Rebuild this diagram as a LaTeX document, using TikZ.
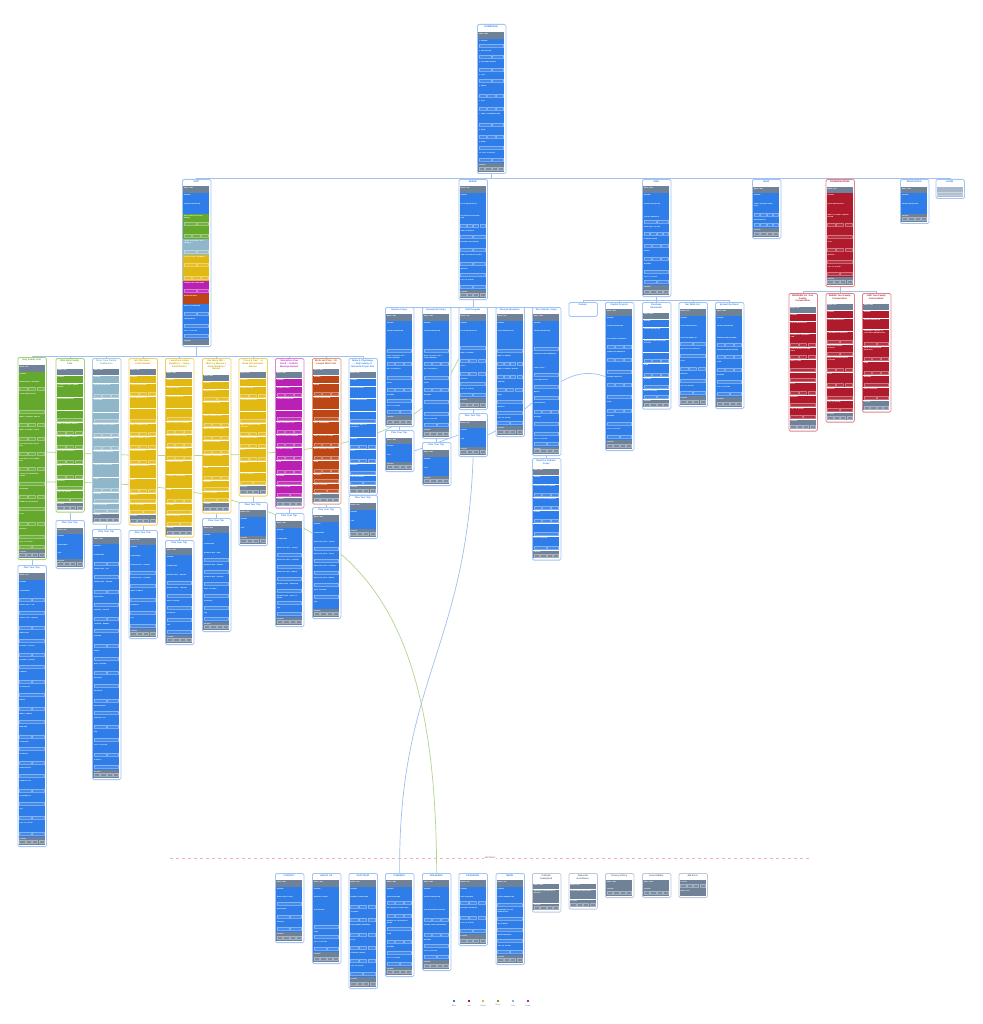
\documentclass[tikz,border=0pt]{standalone}
\usepackage{fontspec}
\setmainfont{Liberation Sans}
\usetikzlibrary{backgrounds}
\definecolor{cblue}{RGB}{47,125,232}
\definecolor{cgrey}{RGB}{112,130,152}
\definecolor{cgreen}{RGB}{100,168,45}
\definecolor{cteal}{RGB}{143,182,201}
\definecolor{cyellow}{RGB}{226,184,18}
\definecolor{cpurple}{RGB}{186,32,180}
\definecolor{corange}{RGB}{188,70,22}
\definecolor{cred}{RGB}{176,26,45}
\definecolor{clight}{RGB}{170,184,204}
\definecolor{fblue}{RGB}{160,196,246}
\definecolor{fgreen}{RGB}{165,208,125}
\definecolor{fteal}{RGB}{175,204,218}
\definecolor{fyellow}{RGB}{238,208,100}
\definecolor{fpurple}{RGB}{222,130,218}
\definecolor{forange}{RGB}{226,155,125}
\definecolor{fred}{RGB}{226,132,142}
\definecolor{fgrey}{RGB}{188,200,218}
\definecolor{tblue}{RGB}{47,125,232}
\definecolor{tgreen}{RGB}{90,160,40}
\definecolor{tteal}{RGB}{110,160,185}
\definecolor{tyellow}{RGB}{200,160,0}
\definecolor{tpurple}{RGB}{186,32,180}
\definecolor{torange}{RGB}{188,70,22}
\definecolor{tred}{RGB}{176,26,45}
\definecolor{tgrey}{RGB}{90,105,125}
\definecolor{linkblue}{RGB}{160,192,238}
\definecolor{lgreen}{RGB}{178,214,140}
\definecolor{divpink}{RGB}{242,178,188}
\newcommand\navsl{/}
\tikzset{
  cardframe/.style={draw=f#1, fill=white, line width=0.8pt, rounded corners=1.4pt, inner sep=0pt, minimum width=28.5pt},
  cardtitle/.style={text=t#1, font=\fontsize{2.3}{2.7}\selectfont\bfseries, text width=26pt, align=center, inner sep=0pt},
  seclabel/.style={text=white, font=\fontsize{1.5}{1.8}\selectfont\bfseries, text width=22pt, align=left, inner sep=0pt},
  secbox/.style={draw=white, draw opacity=0.35, fill=white, fill opacity=0.1, line width=0.2pt},
  treelink/.style={draw=linkblue, line width=0.75pt},
  xblue/.style={draw=linkblue, line width=0.7pt},
  xgreen/.style={draw=lgreen, line width=0.7pt},
  legendtext/.style={text=tgrey, font=\fontsize{1.8}{2}\selectfont, inner sep=0pt},
}
\newcommand\pagecard[7]{%
  \xdef\cardh{#5}%
  \foreach \col/\h/\lbl/\nb in {#7}{\pgfmathsetmacro\tmp{\cardh+\h}\xdef\cardh{\tmp}}%
  \node[cardframe=#4, minimum height=\cardh+1.2, anchor=north west] (#1) at (#2,#3) {};
  \node[cardtitle=#4, anchor=north] at (#2+14.25,#3+1.8) {#6};
  \xdef\cury{#5}%
  \foreach \col/\h/\lbl/\nb in {#7}{%
    \fill[\col] (#2+1.3,#3+\cury) rectangle (#2+27.2,#3+\cury+\h-0.4);
    \node[seclabel, anchor=north west] at (#2+2,#3+\cury+1) {\lbl};
    \ifnum\nb>0
      \pgfmathsetmacro\bw{(24.5-(\nb-1)*1.2)/\nb}
      \pgfmathsetmacro\by{#3+\cury+\h-4.6}
      \foreach \i in {1,...,\nb}{%
        \pgfmathsetmacro\bx{#2+2+(\i-1)*(\bw+1.2)}
        \draw[secbox] (\bx,\by) rectangle ++(\bw,3);}
    \fi
    \pgfmathsetmacro\tmp{\cury+\h}\xdef\cury{\tmp}%
  }%
}
\begin{document}
\begin{tikzpicture}[x=1pt,y=-1pt]
\useasboundingbox (0,0) rectangle (982,1024);

\pagecard{home}{477}{24}{blue}{8}{HOMEPAGE}{cgrey/7/MENU \navsl{} NAV/0, cblue/10/1. HEADER/1, cblue/11/2. WHO WE ARE/2, cblue/13/3. UPCOMING EVENTS/2, cblue/11/4. VISIT/2, cblue/15/5. SERVE/3, cblue/13/6. GIVE/3, cblue/16/7. FAMILY CONVERSATIONS/2, cblue/12/8. SHOP/3, cblue/11/9. NEWS/1, cblue/12/10. CALL TO ACTION/2, cgrey/9/FOOTER/4}

\pagecard{visit}{182}{179}{blue}{7}{VISIT}{cgrey/7/MENU \navsl{} NAV/0, cblue/9/HEADER/0, cblue/12/VALUE PROPOSITION/0, cgreen/13/HOLY FAMILY FEST PROGRAMS/2, cgreen/12//3, cteal/16/TETON TEEN FAMILY CONFERENCE/2, cyellow/13/YOUTH \& ADULT RETREATS/2, cyellow/13//3, cpurple/13/STRENGTHEN YOUR BOND/2, corange/10/WORK AND PRAY/0, cblue/13/MAKE A PILGRIMAGE/2, cblue/12/TESTIMONIALS/1, cblue/10/CALL TO ACTION/1, cgrey/6/FOOTER/0}
\pagecard{serve}{458.5}{179}{blue}{7}{SERVE}{cgrey/7/MENU \navsl{} NAV/0, cblue/9/HEADER/0, cblue/12/VALUE PROPOSITION/0, cblue/15/VOLUNTEER OPPORTUNITIES/4, cblue/11/WHAT IS SERVICE/2, cblue/13/BECOME A VOLUNTEER/2, cblue/14/JOIN THE CATHOLIC CORPS/2, cblue/11/WITNESS/1, cblue/12/CALL TO ACTION/2, cgrey/8/FOOTER/4}
\pagecard{give}{642}{179}{blue}{7}{GIVE}{cgrey/7/MENU \navsl{} NAV/0, cblue/9/HEADER/0, cblue/13/VALUE PROPOSITION/0, cblue/10/CAPITAL PROJECTS/2, cblue/12/MORE WAYS TO GIVE/4, cblue/12/PLANNED GIVING/3, cblue/13/IMPACT/3, cblue/13/WITNESS/1, cblue/10/CALL TO ACTION/2, cgrey/10/FOOTER/4}
\pagecard{shop}{752}{179}{blue}{8}{SHOP}{cgrey/6/MENU \navsl{} NAV/0, cblue/9/HEADER/0, cblue/16/FAMILY FAVORITE PRODUCTS/4, cblue/10/NEW ARRIVALS/4, cgrey/9/FOOTER/4}
\pagecard{conv}{825.5}{179}{red}{8}{CONVERSATIONS}{cgrey/6/MENU \navsl{} NAV/0, cred/9/HEADER/0, cred/11/VALUE PROPOSITION/0, cred/15/WHAT IS A FAMILY CONVERSATION/3, cred/12//1, cred/13/PLAN/3, cred/12/WITNESS/1, cred/12/CALL TO ACTION/2, cgrey/8/FOOTER/4}
\pagecard{resources}{900}{179}{blue}{8}{RESOURCES}{cgrey/6/MENU \navsl{} NAV/0, cblue/9/HEADER/0, cblue/12/VALUE PROPOSITION/0, cgrey/8/FOOTER/4}
\pagecard{login}{935.5}{179}{blue}{8}{LOGIN}{clight/10//1}

\pagecard{hff}{17.5}{357}{green}{8}{Holy Family Fest}{cgrey/7/MENU \navsl{} NAV/0, cgreen/8/HEADER/0, cgreen/12/WORKSHOPS \& SESSIONS/3, cgreen/13/VALUE PROPOSITION/0, cgreen/10//1, cgreen/13/WHAT TO EXPECT: ADULTS/3, cgreen/14/WHAT TO EXPECT: YOUTH/3, cgreen/15/FEATURED ADULT SPEAKERS/3, cgreen/15/FEATURED YOUTH SPEAKERS/3, cgreen/15/CALLED TO ENCOUNTER CHRIST/1, cgreen/13/SPONSORS/3, cgreen/12/FINANCIAL ASSISTANCE/1, cgreen/15/PLAN/3, cgreen/13/WITNESS/1, cgreen/10/CALL TO ACTION/2, cgrey/8/FOOTER/4}
\pagecard{hfftrip}{17.5}{565}{blue}{8}{Plan Your Trip}{cgrey/7/MENU \navsl{} NAV/0, cblue/9/HEADER/0, cblue/14/CATEGORIES/2, cblue/13/TRAVEL INFO – AIR/1, cblue/15/TRAVEL INFO – DRIVING/2, cblue/13/DIRECTIONS/1, cblue/14/LODGING – ON SITE/2, cblue/12/LODGING – NEARBY/1, cblue/15/CAMPING/2, cblue/13/RV HOOKUPS/1, cblue/14/DINING/2, cblue/13/WHAT TO BRING/1, cblue/15/WEATHER/2, cblue/12/CHILDCARE/1, cblue/14/SCHEDULE/2, cblue/13/REGISTRATION/1, cblue/15/FINANCIAL AID/2, cblue/13/ACCESSIBILITY/1, cblue/14/FAQ/2, cblue/16/CALL TO ACTION/2, cgrey/8/FOOTER/4}
\pagecard{jpff}{55.5}{358}{green}{10.5}{Mini Holy Family\\Fest}{cgrey/7/MENU \navsl{} NAV/0, cgreen/8/HEADER/0, cgreen/14/LODGING \& SUPPLY PREPARATION/0, cgreen/13/VALUE PROPOSITION/0, cgreen/12//1, cgreen/13/WHAT TO EXPECT: ADULTS/3, cgreen/14/WHAT TO EXPECT: YOUTH/3, cgreen/15/FEATURED SPEAKERS/3, cgreen/15/PLAN/3, cgreen/11/WITNESS/1, cgreen/12/CALL TO ACTION/2, cgrey/8/FOOTER/4}
\pagecard{jpfftrip}{55.5}{520}{blue}{8}{Plan Your Trip}{cgrey/6/MENU \navsl{} NAV/0, cblue/9/HEADER/0, cblue/8/CATEGORIES/0, cblue/8/TIPS/0, cgrey/8/FOOTER/4}
\pagecard{ttfc}{92}{358}{teal}{10.5}{Teton Teen Family\\Conference}{cgrey/7/MENU \navsl{} NAV/0, cteal/8/HEADER/0, cteal/15/VALUE PROPOSITION/3, cteal/14/FEATURED/0, cteal/11//1, cteal/14/WHAT TO EXPECT: PARENTS/3, cteal/13/WHAT TO EXPECT: TEENS/3, cteal/13/CONFERENCE SPEAKERS/0, cteal/14/FINANCIAL ASSISTANCE/0, cteal/15/PLAN/3, cteal/11/WITNESS/1, cteal/10/CALL TO ACTION/2, cgrey/9/FOOTER/4}
\pagecard{ttfctrip}{92}{529}{blue}{8}{Plan Your Trip}{cgrey/7/MENU \navsl{} NAV/0, cblue/9/HEADER/0, cblue/14/CATEGORIES/2, cblue/13/TRAVEL INFO – AIR/1, cblue/15/TRAVEL INFO – DRIVING/2, cblue/13/DIRECTIONS/1, cblue/14/LODGING – ON SITE/2, cblue/12/LODGING – NEARBY/1, cblue/15/CAMPING/2, cblue/13/DINING/1, cblue/14/WHAT TO BRING/2, cblue/13/WEATHER/1, cblue/15/SCHEDULE/2, cblue/12/REGISTRATION/1, cblue/14/FINANCIAL AID/2, cblue/13/FAQ/1, cblue/15/CALL TO ACTION/2, cblue/12/CONTACT/1, cgrey/8/FOOTER/4}
\pagecard{itd}{128.5}{358}{yellow}{10.5}{Into the Deep –\\Youth Retreat}{cgrey/7/MENU \navsl{} NAV/0, cyellow/8/HEADER/0, cyellow/13/RETREAT OVERVIEW/3, cyellow/12/VALUE PROPOSITION/0, cyellow/15//1, cyellow/13/WHAT TO EXPECT: DAY/3, cyellow/13/WHAT TO EXPECT: NIGHT/3, cyellow/15/RETREAT SPEAKERS/3, cyellow/14/FINANCIAL ASSISTANCE/0, cyellow/15/PLAN/3, cyellow/10/WITNESS/1, cyellow/11/CALL TO ACTION/2, cgrey/9/FOOTER/4}
\pagecard{itdtrip}{128.5}{530}{blue}{8}{Plan Your Trip}{cgrey/7/MENU \navsl{} NAV/0, cblue/9/HEADER/0, cblue/9/CATEGORIES/0, cblue/13/RETREAT INFO – ARRIVAL/1, cblue/13/RETREAT INFO – LODGING/1, cblue/14/WHAT TO BRING/1, cblue/13/SCHEDULE/1, cblue/13/FAQ/1, cgrey/8/FOOTER/4}
\pagecard{lla}{165}{358}{yellow}{13.5}{Lakeshore Lodge\\(Hopkins) – Young\\Adult Retreat}{cgrey/7/MENU \navsl{} NAV/0, cyellow/8/HEADER/0, cyellow/9/RETREAT DATES/0, cyellow/13/VALUE PROPOSITION/0, cyellow/13//1, cyellow/13/WHAT TO EXPECT: WEEKEND/3, cyellow/13/WHAT TO EXPECT: LODGE/3, cyellow/13/WHAT TO EXPECT: EVENTS/3, cyellow/14/RETREAT SPEAKERS/0, cyellow/14/FINANCIAL ASSISTANCE/0, cyellow/15/PLAN/3, cyellow/11/WITNESS/1, cyellow/12/CALL TO ACTION/2, cgrey/9/FOOTER/4}
\pagecard{llatrip}{165}{540}{blue}{8}{Plan Your Trip}{cgrey/7/MENU \navsl{} NAV/0, cblue/9/HEADER/0, cblue/9/CATEGORIES/0, cblue/13/RETREAT INFO – ARRIVAL/1, cblue/13/RETREAT INFO – LODGING/1, cblue/12/WHAT TO BRING/1, cblue/12/SCHEDULE/1, cblue/12/FAQ/1, cgrey/8/FOOTER/4}
\pagecard{amm}{202}{358}{yellow}{16.5}{Ave Maria Mtn –\\Men's \& Women's\\Silent Weekend\\Retreat}{cgrey/7/MENU \navsl{} NAV/0, cyellow/8/HEADER/0, cyellow/12/RETREAT DATES/2, cyellow/13/VALUE PROPOSITION/0, cyellow/13/WHAT TO EXPECT: MEN/3, cyellow/13/WHAT TO EXPECT: WOMEN/3, cyellow/14/RETREAT SPEAKERS/3, cyellow/12/FINANCIAL ASSISTANCE/0, cyellow/14/PLAN/3, cyellow/11/WITNESS/1, cyellow/11/CALL TO ACTION/2, cgrey/9/FOOTER/4}
\pagecard{ammtrip}{202}{518}{blue}{8}{Plan Your Trip}{cgrey/7/MENU \navsl{} NAV/0, cblue/9/HEADER/0, cblue/9/CATEGORIES/0, cblue/12/RETREAT INFO – MEN/1, cblue/12/RETREAT INFO – WOMEN/1, cblue/12/RETREAT INFO – SILENCE/1, cblue/12/WHAT TO BRING/1, cblue/12/SCHEDULE/1, cblue/11/FAQ/1, cgrey/8/FOOTER/4}
\pagecard{cas}{238.5}{358}{yellow}{13.5}{“Come \& See” – A\\Week Discernment\\Retreat}{cgrey/7/MENU \navsl{} NAV/0, cyellow/8/HEADER/0, cyellow/12/RETREAT DATES/3, cyellow/13/VALUE PROPOSITION/0, cyellow/12//1, cyellow/13/WHAT TO EXPECT DURING THE WEEK/3, cyellow/12/THE CATHOLIC CORPS/3, cyellow/13/PLAN/3, cyellow/11/WITNESS/0, cyellow/13/CALL TO ACTION/2, cgrey/9/FOOTER/4}
\pagecard{castrip}{238.5}{502}{blue}{8}{Plan Your Trip}{cgrey/7/MENU \navsl{} NAV/0, cblue/9/HEADER/0, cblue/10/TIPS/0, cgrey/8/FOOTER/4}
\pagecard{syb}{275}{358}{purple}{13.5}{Strengthen Your\\Bond – Catholic\\Marriage Retreat}{cgrey/7/MENU \navsl{} NAV/0, cpurple/8/HEADER/0, cpurple/11/RETREAT DATES/3, cpurple/13/VALUE PROPOSITION/0, cpurple/11//1, cpurple/13/WHAT TO EXPECT: DAY/3, cpurple/13/WHAT TO EXPECT: EVENING/3, cpurple/13/RETREAT SPEAKERS/3, cpurple/14/PLAN/3, cpurple/11/WITNESS/1, cpurple/12/CALL TO ACTION/2, cgrey/9/FOOTER/4}
\pagecard{sybtrip}{275}{513}{blue}{8}{Plan Your Trip}{cgrey/7/MENU \navsl{} NAV/0, cblue/9/HEADER/0, cblue/9/CATEGORIES/0, cblue/12/PRACTICAL INFO – TRAVEL/1, cblue/12/PRACTICAL INFO – LODGING/1, cblue/12/PRACTICAL INFO – MEALS/1, cblue/12/RETREAT INFO – SCHEDULE/1, cblue/12/RETREAT INFO – WHAT TO BRING/1, cblue/11/FAQ/1, cgrey/8/FOOTER/4}
\pagecard{wap}{312}{358}{orange}{10.5}{Work and Pray – St.\\Joseph Work Fest}{cgrey/7/MENU \navsl{} NAV/0, corange/8/HEADER/0, corange/13/DATES/3, corange/13/VALUE PROPOSITION/0, corange/12//1, corange/13/SKILL ASSESSMENT/0, corange/13/WHAT TO EXPECT: WORK/3, corange/13/WHAT TO EXPECT: PRAYER/3, corange/13/PLAN/3, corange/10/WITNESS/1, corange/10/CALL TO ACTION/2, cgrey/9/FOOTER/4}
\pagecard{waptrip}{312}{507}{blue}{8}{Plan Your Trip}{cgrey/7/MENU \navsl{} NAV/0, cblue/9/HEADER/0, cblue/9/CATEGORIES/0, cblue/12/PRACTICAL INFO – TRAVEL/1, cblue/12/PRACTICAL INFO – TOOLS/1, cblue/12/PRACTICAL INFO – LODGING/1, cblue/12/PRACTICAL INFO – MEALS/1, cblue/12/WHAT TO BRING/1, cblue/9/FAQ/0, cgrey/8/FOOTER/4}
\pagecard{map}{348.5}{358}{blue}{13.5}{Make A Pilgrimage\\– Holy Family of\\Nazareth Prayer Site}{cgrey/7/MENU \navsl{} NAV/0, cblue/8/HEADER/0, cblue/12/PLAN YOUR VISIT/0, cblue/13/VALUE PROPOSITION/0, cblue/12//1, cblue/14/THE HOLY FAMILY OF NAZARETH/0, cblue/12/HISTORY/3, cblue/14/PLAN/3, cblue/12/WITNESS/1, cblue/10/CALL TO ACTION/2, cgrey/8/FOOTER/4}
\pagecard{maptrip}{348.5}{495}{blue}{8}{Plan Your Trip}{cgrey/7/MENU \navsl{} NAV/0, cblue/9/HEADER/0, cblue/10/TIPS/0, cgrey/8/FOOTER/4}

\pagecard{sc}{385}{307}{blue}{7}{Service Corps}{cgrey/7/MENU \navsl{} NAV/0, cblue/8/HEADER/0, cblue/13/VALUE PROPOSITION/0, cblue/12//1, cblue/13/WHAT TO EXPECT AS A CORPS MEMBER/3, cblue/14/GET THE DETAILS/1, cblue/12/APPLY/3, cblue/11/WITNESS/1, cblue/11/CALL TO ACTION/2, cgrey/10/FOOTER/4}
\pagecard{sctrip}{385}{430}{blue}{8}{Plan Your Trip}{cgrey/6/MENU \navsl{} NAV/0, cblue/9/HEADER/0, cblue/9/TIPS/0, cgrey/8/FOOTER/4}
\pagecard{hc}{422}{307}{blue}{7}{Household Corps}{cgrey/7/MENU \navsl{} NAV/0, cblue/8/HEADER/0, cblue/13/VALUE PROPOSITION/0, cblue/12//1, cblue/13/WHAT TO EXPECT AS A CORPS MEMBER/3, cblue/14/GET THE DETAILS/1, cblue/12/APPLY/3, cblue/12/WITNESS/1, cblue/12//1, cblue/11/CALL TO ACTION/2, cgrey/9/FOOTER/4}
\pagecard{hctrip}{422}{442}{blue}{8}{Plan Your Trip}{cgrey/7/MENU \navsl{} NAV/0, cblue/9/HEADER/0, cblue/10/TIPS/0, cgrey/8/FOOTER/4}
\pagecard{gp}{458.5}{307}{blue}{7}{Golf Program}{cgrey/7/MENU \navsl{} NAV/0, cblue/8/HEADER/0, cblue/13/VALUE PROPOSITION/0, cblue/9//1, cblue/13/WHAT TO EXPECT/3, cblue/13/APPLY/3, cblue/10/WITNESS/1, cblue/11/CALL TO ACTION/2, cgrey/10/FOOTER/4}
\pagecard{gptrip}{458.5}{413}{blue}{8}{Plan Your Trip}{cgrey/7/MENU \navsl{} NAV/0, cblue/9/HEADER/0, cblue/10/TIPS/0, cgrey/8/FOOTER/4}
\pagecard{dm}{495.5}{307}{blue}{7}{Disciple Mountain}{cgrey/7/MENU \navsl{} NAV/0, cblue/8/HEADER/0, cblue/13/VALUE PROPOSITION/0, cblue/12//1, cblue/13/WHAT TO EXPECT/4, cblue/13/WHAT TO EXPECT: WINTER/4, cblue/13/TIMELINE/3, cblue/12/FAQS/1, cblue/11/WITNESS/1, cblue/10/CALL TO ACTION/2, cgrey/9/FOOTER/4}
\pagecard{tcc}{532}{307}{blue}{7}{The Catholic Corps}{cgrey/7/MENU \navsl{} NAV/0, cblue/8/HEADER/0, cblue/13/VALUE PROPOSITION/0, cblue/10//1, cblue/14/CATHOLIC CORPS MEMBERS/0, cblue/12/APPLY TODAY/1, cblue/12/OUR SPIRITUALITY/1, cblue/11/MEALS/1, cblue/14/TESTIMONIALS/3, cblue/12/WITNESS/1, cblue/10//1, cblue/10/CALL TO ACTION/2, cgrey/7/FOOTER/4}
\pagecard{meetcc}{532}{458}{blue}{10.5}{Meet the Catholic\\Corps}{cgrey/7/MENU \navsl{} NAV/0, cblue/9/HEADER/0, cblue/13/CATHOLIC CORPS LEADERS/3, cblue/13/CATHOLIC CORPS MEMBERS/3, cblue/13/ALUMNI/3, cblue/13//1, cblue/14/CALL TO ACTION/2, cgrey/8/FOOTER/4}

\node[cardframe=blue, minimum height=14, anchor=north west] (donate) at (568.5,302) {};
\node[cardtitle=blue, anchor=north] at (582.75,304) {Donate};
\pagecard{cp}{605}{302}{blue}{7}{Capital Projects}{cgrey/7/MENU \navsl{} NAV/0, cblue/8/HEADER/0, cblue/13/VALUE PROPOSITION/0, cblue/13/OUR CAPITAL PROJECTS/3, cblue/13/COMPLETED PROJECTS/3, cblue/12//1, cblue/13/FUTURE PROJECTS/3, cblue/12//1, cblue/14/PLAN/3, cblue/13/WITNESS/1, cblue/13/CALL TO ACTION/2, cgrey/9/FOOTER/4}
\pagecard{pm}{642}{302}{blue}{10.5}{Purchase\\Memorials}{cgrey/7/MENU \navsl{} NAV/0, cblue/8/HEADER/0, cblue/12/VALUE PROPOSITION/0, cblue/13/MEMORIAL BRICK \& PLAQUE OPTIONS/0, cblue/11//3, cblue/14/PLAN/3, cblue/12/WITNESS/1, cblue/10/CALL TO ACTION/2, cgrey/8/FOOTER/4}
\pagecard{owl}{678.5}{302}{blue}{7}{Our Wish List}{cgrey/7/MENU \navsl{} NAV/0, cblue/8/HEADER/0, cblue/12/VALUE PROPOSITION/0, cblue/11/SHOP OUR WISH LIST/2, cblue/12/WISH LIST BY CATEGORY/1, cblue/13/PLAN/3, cblue/12/WITNESS/1, cblue/12/CALL TO ACTION/2, cgrey/9/FOOTER/4}
\pagecard{stw}{715}{302}{blue}{7}{Spread the Word}{cgrey/7/MENU \navsl{} NAV/0, cblue/8/HEADER/0, cblue/12/VALUE PROPOSITION/0, cblue/12/AMBASSADOR PROGRAM/3, cblue/12/AMBASSADOR RESOURCES/3, cblue/13/PLAN/3, cblue/12/WITNESS/1, cblue/12/CALL TO ACTION/2, cgrey/10/FOOTER/4}

\pagecard{prep}{788.5}{293}{red}{13.5}{PREPARE For Your\\Family\\Conversation}{cgrey/7/MENU \navsl{} NAV/0, cred/8/HEADER/0, cred/12/VALUE PROPOSITION/0, cred/14/SCHEDULE A CONVERSATION/3, cred/12/TOOLS TO HELP YOU PREPARE/3, cred/13/WHAT TO ASK/1, cred/10//1, cred/13/PLAN/3, cred/12/WITNESS/1, cred/12/CALL TO ACTION/2, cgrey/10/FOOTER/4}
\pagecard{share}{825.5}{293}{red}{10.5}{SHARE Your Family\\Conversation}{cgrey/7/MENU \navsl{} NAV/0, cred/8/HEADER/0, cred/13/VALUE PROPOSITION/0, cred/13/CONVERSATION PROMPTS/2, cred/12/DAILY DEVOTIONAL PRAYERS/2, cred/16/EVENT CONVERSATION RESOURCES/3, cred/15/PLAN/3, cred/13/WITNESS/1, cred/12/CALL TO ACTION/2, cgrey/8/FOOTER/4}
\pagecard{live}{862}{293}{red}{10.5}{LIVE Your Family\\Conversation}{cgrey/7/MENU \navsl{} NAV/0, cred/8/HEADER/0, cred/11/VALUE PROPOSITION/0, cred/17/COMMUNITY GROUPS TO LIVE YOUR CONVERSATION/2, cred/15/MORE CONVERSATION PRODUCTS/3, cred/14/PLAN/3, cred/12/WITNESS/1, cred/13/CALL TO ACTION/2, cgrey/10/FOOTER/4}

\pagecard{contact}{275}{873}{blue}{7}{CONTACT}{cgrey/7/MENU \navsl{} NAV/0, cblue/8/HEADER/0, cblue/12/MAIN CONTACT INFO/1, cblue/13/DIRECTIONS/2, cblue/12/SUPPORT/2, cgrey/9/FOOTER/4}
\pagecard{about}{312}{873}{blue}{7}{ABOUT US}{cgrey/7/MENU \navsl{} NAV/0, cblue/8/HEADER/0, cblue/13/MISSION \& VISION/0, cblue/22/OUR HISTORY/1, cblue/10/FAQS/1, cblue/12/CALL TO ACTION/2, cgrey/10/FOOTER/4}
\pagecard{team}{348.5}{873}{blue}{7}{OUR TEAM}{cgrey/7/MENU \navsl{} NAV/0, cblue/8/HEADER/0, cblue/15/BOARD OF DIRECTORS/3, cblue/13/OFFICERS/3, cblue/15/DEPARTMENT MANAGERS/3, cblue/13/STAFF/3, cblue/13/ADVISORY COUNCIL/3, cblue/13/CALL TO ACTION/2, cgrey/10/FOOTER/4}
\pagecard{careers}{385}{873}{blue}{7}{CAREERS}{cgrey/7/MENU \navsl{} NAV/0, cblue/8/HEADER/0, cblue/11/OPEN POSITIONS/3, cblue/13/WHY WORK AT FAMILYLAND/3, cblue/13/BENEFITS \& JOB OPPORTUNITIES/1, cblue/13/PLAN/3, cblue/11/WITNESS/1, cblue/11/CALL TO ACTION/2, cgrey/8/FOOTER/4}
\pagecard{speakers}{422}{873}{blue}{7}{SPEAKERS}{cgrey/7/MENU \navsl{} NAV/0, cblue/8/HEADER/0, cblue/13/VALUE PROPOSITION/0, cblue/15/OUR FEATURED SPEAKERS/3, cblue/15/FUTURE YOUR CONFERENCE/3, cblue/11/WITNESS/1, cblue/11/CALL TO ACTION/2, cgrey/9/FOOTER/4}
\pagecard{sponsors}{458.5}{873}{blue}{7}{SPONSORS}{cgrey/7/MENU \navsl{} NAV/0, cblue/8/HEADER/0, cblue/11/OUR SPONSORS/3, cblue/15/BECOME A SPONSOR/3, cblue/13/CALL TO ACTION/2, cgrey/10/FOOTER/4}
\pagecard{news}{495.5}{873}{blue}{7}{NEWS}{cgrey/7/MENU \navsl{} NAV/0, cblue/8/HEADER/0, cblue/13/LATEST NEWSLETTER/1, cblue/14/SUBSCRIBE TO OUR NEWSLETTER/1, cblue/11/IN THE NEWS/1, cblue/11/PRESS RELEASES/1, cblue/11/CALL TO ACTION/2, cgrey/8/FOOTER/4}
\pagecard{cfl}{532}{873}{grey}{10.5}{Catholic\\Familyland}{cgrey/6/MENU \navsl{} NAV/0, cgrey/14/PROPERTY INFORMATION \& DETAILS/0, cgrey/7/FOOTER/4}
\pagecard{finaid}{568.5}{873}{grey}{10.5}{Financial\\Assistance}{cgrey/6/MENU \navsl{} NAV/0, cgrey/10/SCHOLARSHIP PROGRAMS/0, cgrey/8/FOOTER/4}
\pagecard{privacy}{605}{873}{grey}{7}{Privacy Policy}{cgrey/7/MENU \navsl{} NAV/0, cgrey/9/FOOTER/4}
\pagecard{access}{642}{873}{grey}{7}{Accessibility}{cgrey/7/MENU \navsl{} NAV/0, cgrey/9/FOOTER/4}
\pagecard{err}{678.5}{873}{grey}{7}{404 Error}{cgrey/9/FOOTER/4, cgrey/7/MENU \navsl{} NAV/0}

\coordinate (divl) at (170,858);
\coordinate (divr) at (812,858);
\draw[divpink, line width=0.5pt, dashed] (divl) -- (divr);
\node[fill=white, text=tred, font=\fontsize{2}{2.4}\selectfont, inner sep=0.6pt] (divlabel) at (490,858) {SECTION 2};

\foreach \c/\t/\x in {cblue/Blue/454, cred/Red/469, cyellow/Yellow/483, cgreen/Green/498, cteal/Teal/513, cpurple/Purple/528}{
  \node[fill=\c, minimum size=2.6pt, inner sep=0pt] (lg\t) at (\x,1001) {};
  \node[legendtext, anchor=north] at (\x,1004.5) {\t};
}

\coordinate (hffa) at (46,452);
\coordinate (hffb) at (46,482);
\begin{pgfonlayer}{background}
\fill[white] (0,0) rectangle (982,1024);
\foreach \c in {visit,serve,give,shop,conv,resources,login}
  \draw[treelink] (home.south) -- ++(0,4) -| (\c.north);
\foreach \c in {hff,jpff,ttfc,itd,lla,amm,cas,syb,wap,map}
  \draw[treelink] (visit.south) -- ++(0,9) -| (\c.north);
\foreach \c in {sc,hc,gp,dm,tcc}
  \draw[treelink] (serve.south) -- ++(0,7) -| (\c.north);
\foreach \c in {donate,cp,pm,owl,stw}
  \draw[treelink] (give.south) -- ++(0,3) -| (\c.north);
\foreach \c in {prep,share,live}
  \draw[treelink] (conv.south) -- ++(0,4) -| (\c.north);
\foreach \p/\c in {hff/hfftrip,jpff/jpfftrip,ttfc/ttfctrip,itd/itdtrip,lla/llatrip,amm/ammtrip,cas/castrip,syb/sybtrip,wap/waptrip,map/maptrip,sc/sctrip,hc/hctrip,gp/gptrip,tcc/meetcc}
  \draw[treelink] (\p.south) -- (\c.north);
\draw[xblue] (gptrip.south) .. controls (466,650) and (398,680) .. (careers.north);
\draw[xblue] (sctrip.east) -- (gptrip.west);
\draw[xblue] (gptrip.east) .. controls (530,415) and (560,360) .. (cp.west);
\draw[xgreen] (hffa) .. controls (330,465) and (420,445) .. (gp.west);
\draw[xgreen] (hffb) .. controls (330,482) and (436,560) .. (speakers.north);
\end{pgfonlayer}
\end{tikzpicture}
\end{document}
